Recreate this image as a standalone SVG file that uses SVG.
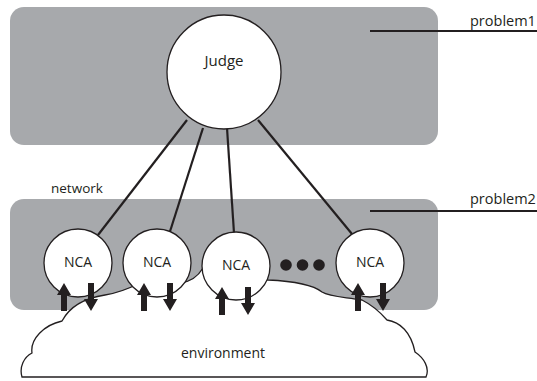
<svg xmlns="http://www.w3.org/2000/svg" width="537" height="381" viewBox="0 0 537 381">
  <style>
    .panel { fill: #a7a9ac; }
    .node { fill: #ffffff; stroke: #231f20; stroke-width: 1.3; }
    .conn { stroke: #231f20; stroke-width: 2.2; fill: none; }
    .lead { stroke: #231f20; stroke-width: 2; fill: none; }
    .txt { font-family: "Open Sans", "Noto Sans", "Liberation Sans", sans-serif; fill: #231f20; }
    .arrow { fill: #231f20; }
    .dot { fill: #231f20; }
  </style>
  <defs>
    <path id="up" class="arrow" d="M0,0 L7,12 L3,12 L3,28 L-3,28 L-3,12 L-7,12 Z"/>
    <path id="down" class="arrow" d="M0,28 L7,16 L3,16 L3,0 L-3,0 L-3,16 L-7,16 Z"/>
  </defs>

  <g id="problem1">
    <rect class="panel" x="10" y="7" width="428" height="138" rx="14"/>
    <line class="lead" x1="370" y1="31" x2="537" y2="31"/>
    <text class="txt" x="470" y="26" font-size="14.5">problem1</text>
  </g>

  <g id="problem2">
    <rect class="panel" x="10" y="199" width="428" height="111" rx="14"/>
    <line class="lead" x1="370" y1="211" x2="537" y2="211"/>
    <text class="txt" x="470" y="204" font-size="14.5">problem2</text>
  </g>

  <g id="network-label">
    <text class="txt" x="51" y="193" font-size="13.5">network</text>
  </g>

  <g id="environment">
    <path class="node" d="M22,377 C19,367 24,357 32,353 C30,339 44,325 62,321 C70,306 85,298 105,295 C118,293 130,288 140,283 L180,283 C190,282 197,278 203,268 L268,280 C290,281 312,284 322,292 C330,297 345,297 362,300 C372,305 380,312 387,320 C400,322 411,332 415,352 C424,358 430,368 426,377 Z"/>
    <text class="txt" x="223" y="358" font-size="14" text-anchor="middle">environment</text>
  </g>

  <g id="connectors">
    <line class="conn" x1="187" y1="120" x2="98" y2="235"/>
    <line class="conn" x1="203" y1="128" x2="169.5" y2="233"/>
    <line class="conn" x1="227" y1="128" x2="234" y2="233"/>
    <line class="conn" x1="258" y1="120" x2="352" y2="234"/>
  </g>

  <g id="judge">
    <circle class="node" cx="224" cy="72" r="57"/>
    <text class="txt" x="224" y="66" font-size="15" text-anchor="middle">Judge</text>
  </g>

  <g id="nca1">
    <circle class="node" cx="78" cy="263" r="34"/>
    <text class="txt" x="78" y="267" font-size="14" text-anchor="middle">NCA</text>
    <use href="#up" x="64" y="283"/>
    <use href="#down" x="91" y="283"/>
  </g>

  <g id="nca2">
    <circle class="node" cx="157" cy="263" r="34"/>
    <text class="txt" x="157" y="267" font-size="14" text-anchor="middle">NCA</text>
    <use href="#up" x="144" y="283"/>
    <use href="#down" x="170" y="283"/>
  </g>

  <g id="nca3">
    <circle class="node" cx="236" cy="266" r="34"/>
    <text class="txt" x="236" y="270" font-size="14" text-anchor="middle">NCA</text>
    <use href="#up" x="222" y="287"/>
    <use href="#down" x="248" y="287"/>
  </g>

  <g id="ellipsis">
    <circle class="dot" cx="286" cy="265" r="5.8"/>
    <circle class="dot" cx="302.5" cy="265" r="5.8"/>
    <circle class="dot" cx="319" cy="265" r="5.8"/>
  </g>

  <g id="nca4">
    <circle class="node" cx="370" cy="263" r="34"/>
    <text class="txt" x="370" y="267" font-size="14" text-anchor="middle">NCA</text>
    <use href="#up" x="358" y="283"/>
    <use href="#down" x="383" y="283"/>
  </g>
</svg>
